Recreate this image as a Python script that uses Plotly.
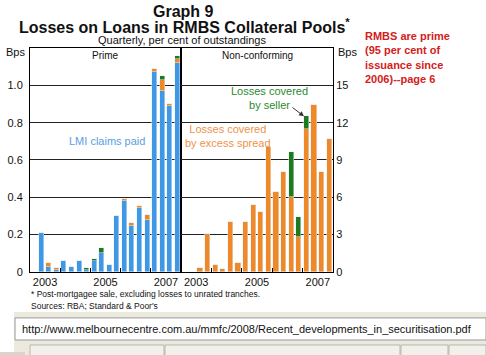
import plotly.graph_objects as go

W, H = 486, 355
YS = 355 / 348  # compensates the vertical scale seen in the rendered picture

# ---- data ----
quarters = [f"{y} Q{q}" for y in range(2003, 2008) for q in range(1, 5)]
year_labels = ["2003", "2005", "2007"]

# Prime (per cent)
prime_lmi = [None, 0.21, 0.025, 0.008, 0.055, 0.023, 0.059, 0.007, 0.059, 0.10,
             0.038, 0.30, 0.38, 0.245, 0.34, 0.275, 1.07, 0.97, 0.89, 1.117]
prime_spread = [None, 0.0, 0.02, 0.010, 0.0, 0.0, 0.0, 0.0, 0.0, 0.0,
                0.0, 0.0, 0.008, 0.015, 0.01, 0.028, 0.015, 0.06, 0.012, 0.023]
prime_seller = [None, 0.0, 0.0, 0.0, 0.0, 0.0, 0.0, 0.015, 0.009, 0.025,
                0.0, 0.0, 0.0, 0.0, 0.002, 0.0, 0.005, 0.018, 0.0, 0.017]

# Non-conforming (bps)
nc_spread = [None, None, 0.3, 3.0, 0.5, 0.2, 4.0, 0.7, 4.0, 5.4,
             4.8, 10.0, 6.4, 8.0, 6.0, 2.8, 11.5, 13.4, 8.0, 10.7]
nc_seller = [None, None, 0, 0, 0, 0, 0, 0, 0, 0,
             0, 0, 0, 0, 3.6, 1.6, 1.0, 0, 0, 0]

BLUE = "#3f98e6"
ORANGE = "#ef8826"
GREEN = "#1d7a1f"
FONT = "Liberation Sans, Arial, sans-serif"

xpos = list(range(len(quarters)))
year_pos = [quarters.index(f"{y} Q1") + 1.5 for y in year_labels]
bounds = [quarters.index(f"{y} Q1") - 0.5 for y in range(2004, 2008)]

def px(x):
    return x / W

def py(y):
    return 1 - y * YS / H

fig = go.Figure()
bw = 0.66
fig.add_trace(go.Bar(x=xpos, y=prime_lmi, marker_color=BLUE, width=bw, xaxis="x", yaxis="y"))
fig.add_trace(go.Bar(x=xpos, y=prime_spread, marker_color=ORANGE, width=bw, xaxis="x", yaxis="y"))
fig.add_trace(go.Bar(x=xpos, y=prime_seller, marker_color=GREEN, width=bw, xaxis="x", yaxis="y"))
fig.add_trace(go.Bar(x=xpos, y=nc_spread, marker_color=ORANGE, width=bw, xaxis="x2", yaxis="y2"))
fig.add_trace(go.Bar(x=xpos, y=nc_seller, marker_color=GREEN, width=bw, xaxis="x2", yaxis="y2"))

x_l, x_m, x_r = 30, 181, 333
y_top, y_bot = 48, 271

xcommon = dict(range=[-0.5, len(quarters) - 0.5], showline=True, linecolor="black", linewidth=1,
               mirror=True, showgrid=False, zeroline=False,
               tickmode="array", tickvals=year_pos, ticktext=year_labels, ticks="",
               tickfont=dict(family=FONT, size=11, color="#111"),
               minor=dict(tickmode="array", tickvals=bounds, ticks="inside", ticklen=4,
                          tickcolor="black", showgrid=False))

fig.update_layout(
    width=W, height=H, autosize=False, margin=dict(l=0, r=0, t=0, b=0),
    paper_bgcolor="white", plot_bgcolor="white", showlegend=False,
    barmode="stack", bargap=0,
    xaxis=dict(domain=[px(x_l), px(x_m)], **xcommon),
    xaxis2=dict(domain=[px(x_m), px(x_r)], anchor="y2", **xcommon),
    yaxis=dict(domain=[py(y_bot), py(y_top)], range=[0, 1.2], anchor="x",
               tickvals=[0, 0.2, 0.4, 0.6, 0.8, 1.0], ticktext=["0", "0.2", "0.4", "0.6", "0.8", "1.0"],
               showgrid=True, gridcolor="#222", gridwidth=1, zeroline=False,
               showline=True, linecolor="black", mirror=True, ticks="", ticklabelstandoff=4,
               tickfont=dict(family=FONT, size=11, color="#111")),
    yaxis2=dict(domain=[py(y_bot), py(y_top)], range=[0, 18], anchor="x2", side="right",
                tickvals=[0, 3, 6, 9, 12, 15], showgrid=True, gridcolor="#222", gridwidth=1,
                zeroline=False, showline=True, linecolor="black", mirror=True, ticks="",
                tickfont=dict(family=FONT, size=11, color="#111")),
)

ann = []
def A(text, x, y, size=11, color="#111", xanchor="center", bold=False, yanchor="middle", align="center"):
    if bold:
        text = f"<b>{text}</b>"
    ann.append(dict(text=text, x=px(x), y=py(y), xref="paper", yref="paper", showarrow=False,
                    xanchor=xanchor, yanchor=yanchor, align=align, borderpad=0,
                    font=dict(family=FONT, size=size, color=color)))

A("Graph 9", 183, 11, size=16, bold=True)
A("Losses on Loans in RMBS Collateral Pools<sup>*</sup>", 184, 26, size=16, bold=True)
A("Quarterly, per cent of outstandings", 182, 39.5, size=11)
A("Bps", 26, 52, size=11, xanchor="right")
A("Bps", 337, 52, size=11, xanchor="left")
A("Prime", 105, 55, size=10)
A("Non-conforming", 257, 55, size=10)
A("LMI claims paid", 107, 141, size=11, color="#5a9ee0")
A("Losses covered<br>by excess spread", 228, 136, size=11, color="#f0924a")
A("Losses covered<br>by seller", 269, 98, size=11, color="#2a8a30")
A("<b>RMBS are prime<br>(95 per cent of<br>issuance since<br>2006)--page 6</b>", 364, 57,
  size=11, color="#d42020", xanchor="left", align="left")
A("* Post-mortgagee sale, excluding losses to unrated tranches.", 30, 293, size=8.5, xanchor="left")
A("Sources: RBA; Standard &amp; Poor's", 30, 305, size=8.5, xanchor="left")
A("http://www.melbournecentre.com.au/mmfc/2008/Recent_developments_in_securitisation.pdf",
  21, 328, size=11, xanchor="left")

# arrow from "by seller" to the green segment
ann.append(dict(x=px(304), y=py(116), ax=-13, ay=-10, xref="paper", yref="paper",
                axref="pixel", ayref="pixel", text="", showarrow=True, arrowhead=2,
                arrowsize=1, arrowwidth=1, arrowcolor="#333"))
fig.update_layout(annotations=ann)

shapes = [
    # browser chrome grey bands
    dict(type="rect", xref="paper", yref="paper", x0=px(14), x1=1, y0=py(360), y1=py(311),
         fillcolor="#ece9df", line_width=0, layer="below"),
    dict(type="rect", xref="paper", yref="paper", x0=px(15), x1=1, y0=py(339), y1=py(317),
         fillcolor="white", line=dict(color="#9a9a9a", width=1), layer="below"),
    dict(type="rect", xref="paper", yref="paper", x0=0, x1=px(25), y0=py(360), y1=py(351),
         fillcolor="#d8d6cc", line_width=0, layer="below"),
]
for x0, x1 in [(30, 164), (165, 400), (401, 448), (449, 486)]:
    shapes.append(dict(type="rect", xref="paper", yref="paper", x0=px(x0), x1=px(x1),
                       y0=py(360), y1=py(344), fillcolor="#f2f0ea",
                       line=dict(color="#b8b6ae", width=1), layer="below"))
fig.update_layout(shapes=shapes)

post = ("document.body.style.margin='0';document.body.style.overflow='hidden';")
fig.write_html("out.html", config={"displayModeBar": False}, post_script=post)
